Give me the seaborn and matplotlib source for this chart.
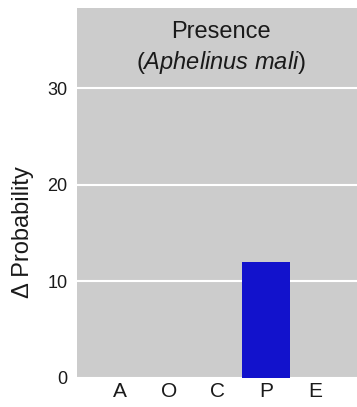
import pandas as pd
import seaborn as sns
import matplotlib.pyplot as plt

# values
categories = ['A', 'O', 'C', 'P', 'E']
delta_prob = [0, 0, 0, 12, 0]

df = pd.DataFrame({'cat': categories, 'val': delta_prob})

sns.set_style('darkgrid', {'axes.facecolor': '#cccccc', 'grid.color': 'white'})
plt.rcParams['font.family'] = ['Liberation Sans', 'DejaVu Sans']
plt.rcParams['mathtext.fontset'] = 'custom'
plt.rcParams['mathtext.rm'] = 'Liberation Sans'
plt.rcParams['mathtext.it'] = 'Liberation Sans:italic'
txt = '#1a1a1a'

fig = plt.figure(figsize=(3.57, 4.07), dpi=100)
ax = fig.add_axes([77 / 357, 29 / 407, 280 / 357, 370 / 407])

sns.barplot(data=df, x='cat', y='val', color='#1212cc', saturation=1,
            width=0.99, linewidth=0, ax=ax)

ax.set_xlim(-0.88, 4.86)
ax.set_ylim(0, 38.3)
ax.set_yticks([0, 10, 20, 30])
ax.grid(axis='x', visible=False)
ax.grid(axis='y', color='white', linewidth=1.5)
ax.tick_params(axis='both', length=0, labelcolor=txt)
ax.tick_params(axis='x', labelsize=15, pad=3)
ax.tick_params(axis='y', labelsize=13, pad=7)
ax.set_xlabel('')
ax.set_ylabel('Δ Probability', fontsize=17, color=txt)
ax.yaxis.set_label_coords(-0.155, 0.395)
for s in ax.spines.values():
    s.set_visible(False)

ax.text(0.514, 0.935, 'Presence', transform=ax.transAxes, ha='center',
        va='center', fontsize=17, color=txt)
ax.text(0.514, 0.852, r'($\mathit{Aphelinus\ mali}$)', transform=ax.transAxes,
        ha='center', va='center', fontsize=17, color=txt)

fig.savefig('out.png', dpi=100)
